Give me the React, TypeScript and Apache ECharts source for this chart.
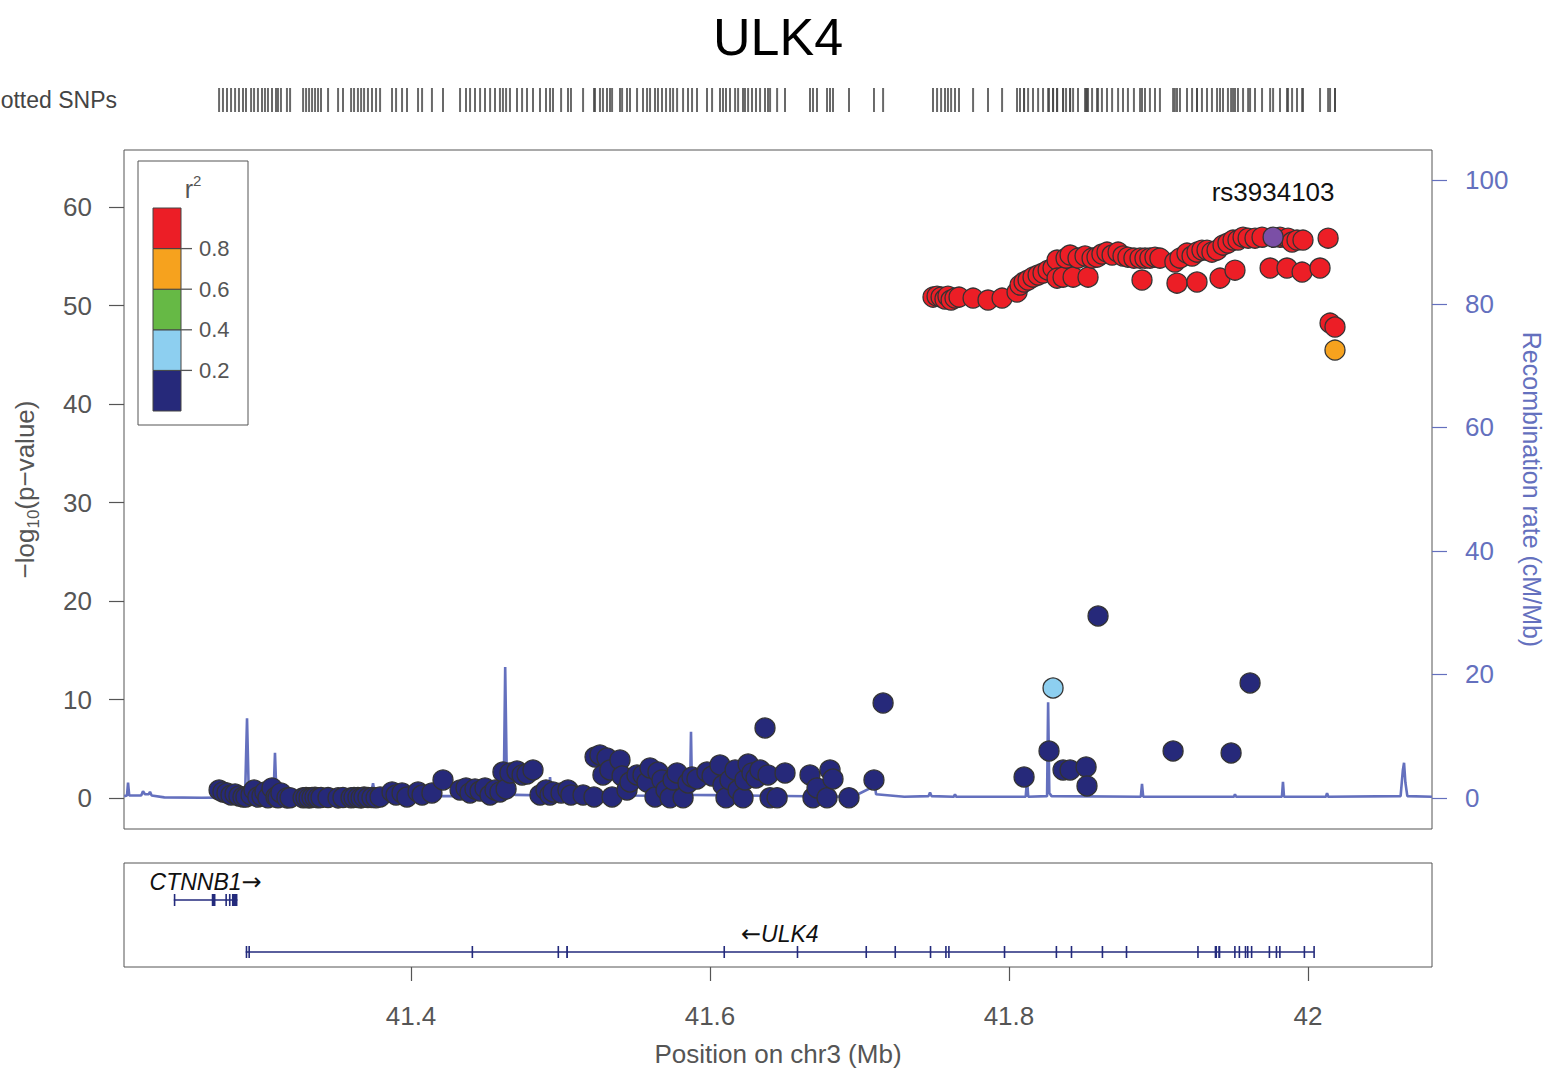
import React, { useEffect, useRef } from "react";
import * as echarts from "echarts";

// ---------------- DATA ----------------
const TITLE = "ULK4";
const INDEX_NAME = "rs3934103";
const X_MIN = 41.208;
const X_MAX = 42.083;
const X_TICKS = [41.4, 41.6, 41.8, 42.0];
const P_TICKS = [0, 10, 20, 30, 40, 50, 60];
const RECOMB_TICKS = [0, 20, 40, 60, 80, 100];
const LD_BREAK_LABELS = ["0.2", "0.4", "0.6", "0.8"];
// colours for r2 bins: <0.2, 0.2-0.4, 0.4-0.6, 0.6-0.8, >0.8
const LD_COLORS = ["#26297A", "#8DCFF0", "#66B945", "#F6A21E", "#EC1E26"];
const INDEX_COLOR = "#7B4FA6";

// r2 < 0.2
const navyPos = [41.2716,41.2742,41.2769,41.2796,41.2823,41.2849,41.2876,41.2896,41.2930,41.2950,41.2976,41.3003,41.3023,41.3043,41.3070,41.3097,41.3110,41.3130,41.3170,41.3191,
  41.3278,41.3298,41.3318,41.3338,41.3358,41.3378,41.3398,
  41.3445,41.3512,41.3545,41.3599,41.3619,41.3645,41.3666,41.3686,41.3712,41.3739,41.3766,41.3793,
  41.3873,41.3900,41.3940,41.3973,41.4047,41.4074,41.4140,41.4214,
  41.4328,41.4368,41.4395,41.4428,41.4462,41.4495,41.4529,41.4562,41.4595,
  41.4615,41.4636,41.4662,41.4709,41.4743,41.4776,41.4816,
  41.4863,41.4903,41.4930,41.4950,41.5004,41.5050,41.5070,41.5151,41.5224,
  41.5231,41.5264,41.5284,41.5311,41.5331,41.5345,41.5398,41.5412,41.5445,41.5465,
  41.5512,41.5552,41.5579,41.5599,41.5632,41.5652,41.5679,41.5706,41.5733,41.5753,41.5780,41.5820,
  41.5853,41.5880,41.5913,41.5980,41.6014,41.6067,41.6087,41.6107,41.6134,41.6168,41.6188,41.6221,41.6234,41.6255,41.6281,41.6308,41.6335,
  41.6368,41.6388,41.6402,41.6449,41.6502,
  41.6669,41.6689,41.6716,41.6783,41.6803,41.6823,41.6930,41.7097,41.7158,
  41.8101,41.8268,41.8362,41.8409,41.8516,41.8522,41.8596,41.9098,41.9486,41.9613];
const navyLogP = [0.81,0.61,0.51,0.30,0.41,0.20,0.10,0.10,0.30,0.81,0.10,0.20,0.61,0.02,1.02,0.10,0.02,0.51,0.01,0.03,
  0.02,0.05,0.01,0.04,0.08,0.02,0.05,
  0.04,0.01,0.05,0.02,0.06,0.04,0.01,0.09,0.04,0.05,0.02,0.10,
  0.61,0.30,0.51,0.10,0.61,0.30,0.51,1.83,
  0.81,1.02,0.51,0.91,0.71,1.02,0.30,0.81,0.61,
  2.64,0.91,2.54,2.74,2.34,2.44,2.84,
  0.30,0.81,0.30,0.61,0.51,0.81,0.30,0.30,0.10,
  4.16,4.37,2.34,4.06,2.84,0.10,3.86,2.23,0.81,1.62,
  2.34,2.34,1.62,3.05,0.10,2.64,1.83,0.81,0.02,1.83,2.54,0.02,
  1.52,2.13,1.93,2.64,2.23,3.35,1.32,0.02,1.83,2.84,0.81,0.02,1.83,3.45,2.54,2.03,2.84,
  7.11,2.34,0.02,0.02,2.54,
  2.34,0.02,1.02,0.02,2.84,1.93,0.02,1.83,9.64,
  2.13,4.77,2.84,2.84,3.15,1.22,18.48,4.77,4.57,11.68];

// 0.2 <= r2 < 0.4
const lightBluePos = [41.8295];
const lightBlueLogP = [11.17];

// 0.6 <= r2 < 0.8
const orangePos = [42.0181];
const orangeLogP = [45.48];

// r2 >= 0.8
const redPos = [41.7492,41.7519,41.7546,41.7572,41.7592,41.7613,41.7639,41.7666,41.7760,41.7860,41.7954,
  41.8054,41.8074,41.8101,41.8128,41.8161,41.8195,41.8228,41.8262,41.8295,
  41.8322,41.8322,41.8362,41.8382,41.8409,41.8429,41.8462,41.8509,41.8529,41.8556,
  41.8589,41.8622,41.8656,41.8690,41.8730,41.8763,41.8796,41.8836,41.8877,41.8890,
  41.8910,41.8943,41.8977,41.9010,41.9110,41.9124,41.9144,41.9191,41.9225,41.9258,
  41.9258,41.9291,41.9325,41.9358,41.9392,41.9412,41.9432,41.9465,41.9499,41.9512,
  41.9532,41.9566,41.9600,41.9646,41.9693,41.9747,41.9813,41.9860,41.9867,41.9894,
  41.9927,41.9961,41.9967,42.0081,42.0135,42.0148,42.0181];
const redLogP = [50.86,50.96,50.86,50.66,50.96,50.56,50.76,50.86,50.76,50.56,50.76,
  51.37,52.08,52.39,52.59,52.89,53.10,53.30,53.60,53.81,
  54.62,52.79,52.89,54.82,55.13,52.89,54.82,55.03,52.89,54.82,
  54.92,55.23,55.43,55.13,55.43,55.03,54.92,54.82,54.82,52.59,
  54.82,54.82,54.92,54.82,54.42,52.28,54.82,55.33,55.03,55.43,
  52.39,55.63,55.63,55.43,55.63,52.79,56.14,56.35,56.65,53.60,
  56.65,56.95,56.85,56.85,56.95,53.81,56.95,53.81,56.85,56.45,
  56.65,53.40,56.65,53.81,56.85,48.22,47.82];

// index SNP
const indexPos = [41.9767];
const indexLogP = [56.95];

// recombination rate (cM/Mb)
const recombPos = [41.2081,41.2100,41.2107,41.2115,41.2195,41.2207,41.2220,41.2245,41.2254,41.2265,41.2350,41.2600,41.2860,
  41.2890,41.2903,41.2915,41.3080,41.3090,41.3100,41.3730,41.3746,41.3760,
  41.4620,41.4630,41.4642,41.4700,41.4922,41.4930,41.4940,41.5475,41.5485,41.5495,
  41.5866,41.5873,41.5880,41.6950,41.6990,41.7090,41.7104,41.7111,41.7300,
  41.7462,41.7472,41.7482,41.7630,41.7639,41.7648,41.8112,41.8121,41.8129,
  41.8255,41.8262,41.8270,41.8285,41.8882,41.8890,41.8898,41.9505,41.9512,41.9520,
  41.9826,41.9833,41.9840,42.0120,42.0128,42.0136,42.0620,42.0635,42.0643,42.0652,42.0665,42.0830];
const recombRate = [0.3,0.4,2.5,0.4,0.4,1.1,0.6,0.6,1.0,0.4,0.1,0.05,0.1,
  0.4,12.9,0.5,0.3,7.3,0.4,0.3,2.4,0.3,
  0.3,21.2,1.0,0.5,0.4,3.4,0.4,0.4,1.2,0.4,
  0.3,10.7,0.5,0.2,0.6,1.8,1.9,0.6,0.2,
  0.3,0.9,0.3,0.2,0.6,0.2,0.2,3.0,0.2,
  0.3,15.5,0.8,0.3,0.2,2.3,0.2,0.2,0.6,0.2,
  0.2,2.6,0.2,0.2,0.8,0.2,0.3,4.5,5.7,2.5,0.3,0.2];

// genes
const geneNames = ["CTNNB1", "ULK4"];
const geneStart = [41.2413, 41.2894];
const geneEnd = [41.2839, 42.0040];
const geneStrand = ["+", "-"];
const ctnnb1Exons = [[41.2413,41.2417],[41.2667,41.2692],[41.2758,41.2762],[41.2782,41.2786],[41.2802,41.2839]];
const ulk4Exons = [[41.2894,41.2897],[41.2912,41.2916],[41.4405,41.4410],[41.4980,41.4985],[41.5038,41.5050],
  [41.6090,41.6095],[41.6580,41.6585],[41.7040,41.7045],[41.7234,41.7239],[41.7470,41.7475],[41.7573,41.7577],
  [41.7593,41.7597],[41.7965,41.7970],[41.8312,41.8316],[41.8413,41.8417],[41.8620,41.8624],[41.8781,41.8785],
  [41.9259,41.9263],[41.9376,41.9392],[41.9400,41.9414],[41.9506,41.9510],[41.9536,41.9540],[41.9577,41.9581],
  [41.9592,41.9596],[41.9618,41.9622],[41.9737,41.9741],[41.9784,41.9788],[41.9807,41.9811],[41.9971,41.9975],[42.0036,42.0040]];

// ---------------- STYLE ----------------
const FONT = "'Liberation Sans', Arial, Helvetica, sans-serif";
const ARROW_FONT = "'DejaVu Sans', sans-serif";
const AXIS_GREY = "#555555";
const RECOMB_BLUE = "#6470BE";
const GENE_NAVY = "#232A7C";
const GENE_ROW_Y = [0.644, 0.144];

const zip = (a: number[], b: number[]) => a.slice(0, Math.min(a.length, b.length)).map((v, i) => [v, b[i]]);

function buildOption() {
  const geneItems: any[] = [];
  for (let g = 0; g < geneNames.length; g++) {
    geneItems.push([geneStart[g], geneEnd[g], g, 0]);
  }
  const exonSets = [ctnnb1Exons, ulk4Exons];
  exonSets.forEach((set, g) => set.forEach(e => geneItems.push([e[0], e[1], g, 1])));

  const allPos = [...navyPos, ...lightBluePos, ...orangePos, ...redPos, ...indexPos];

  const scatterBase = {
    type: "scatter",
    xAxisIndex: 0,
    yAxisIndex: 0,
    symbolSize: 20,
    z: 4,
  };
  const dot = (color: string) => ({ color, borderColor: "#333333", borderWidth: 1.3, opacity: 1 });

  const legendGraphics: any[] = [];
  legendGraphics.push({ type: "rect", shape: { x: 138, y: 161, width: 110, height: 264 }, style: { fill: "#ffffff", stroke: AXIS_GREY, lineWidth: 1 }, z: 10 });
  const barTop = 208, blockH = 40.6;
  for (let i = 0; i < LD_COLORS.length; i++) {
    legendGraphics.push({
      type: "rect",
      shape: { x: 153, y: barTop + (LD_COLORS.length - 1 - i) * blockH, width: 28, height: blockH },
      style: { fill: LD_COLORS[i], stroke: "#444", lineWidth: 1 },
      z: 11,
    });
  }
  LD_BREAK_LABELS.forEach((lab, j) => {
    const y = barTop + (LD_COLORS.length - 1 - j) * blockH;
    legendGraphics.push({ type: "line", shape: { x1: 181, y1: y, x2: 192, y2: y }, style: { stroke: AXIS_GREY, lineWidth: 1.3 }, z: 11 });
    legendGraphics.push({
      type: "text", x: 199, y: y, z: 11,
      style: { text: lab, fontSize: 22, fontFamily: FONT, fill: AXIS_GREY, align: "left", verticalAlign: "middle", textAlign: "left", textVerticalAlign: "middle" },
    });
  });
  legendGraphics.push({
    type: "text", x: 193, y: 187, z: 11,
    style: {
      text: "{r|r}{p|2}", fontFamily: FONT, fill: AXIS_GREY, align: "center", verticalAlign: "middle", textAlign: "center", textVerticalAlign: "middle",
      rich: {
        r: { fontSize: 25, fontFamily: FONT, fill: AXIS_GREY, color: AXIS_GREY, lineHeight: 28, verticalAlign: "bottom" },
        p: { fontSize: 15, fontFamily: FONT, fill: AXIS_GREY, color: AXIS_GREY, lineHeight: 15, verticalAlign: "top" },
      },
    },
  });

  const gridCommon = { outerBoundsMode: "none", containLabel: false };

  return {
    animation: false,
    backgroundColor: "#ffffff",
    textStyle: { fontFamily: FONT },
    grid: [
      { ...gridCommon, left: 124, top: 150, width: 1308, height: 679, show: true, borderColor: AXIS_GREY, borderWidth: 1, backgroundColor: "transparent" },
      { ...gridCommon, left: 124, top: 863, width: 1308, height: 104, show: true, borderColor: AXIS_GREY, borderWidth: 1, backgroundColor: "transparent" },
      { ...gridCommon, left: 124, top: 88, width: 1308, height: 24, show: false },
    ],
    xAxis: [
      { gridIndex: 0, type: "value", min: X_MIN, max: X_MAX, show: false },
      {
        gridIndex: 1, type: "value", min: X_MIN, max: X_MAX,
        axisLine: { show: false }, splitLine: { show: false },
        axisTick: { show: true, customValues: X_TICKS, length: 14, lineStyle: { color: AXIS_GREY, width: 1.2 } },
        axisLabel: { customValues: X_TICKS, margin: 36, fontSize: 26, color: AXIS_GREY, fontFamily: FONT, formatter: (v: number) => String(+v.toFixed(1)) },
        name: "Position on chr3 (Mb)", nameLocation: "middle", nameGap: 74,
        nameTextStyle: { fontSize: 26, color: AXIS_GREY, fontFamily: FONT },
      },
      { gridIndex: 2, type: "value", min: X_MIN, max: X_MAX, show: false },
    ],
    yAxis: [
      {
        gridIndex: 0, type: "value", min: -3.15, max: 65.8, position: "left",
        axisLine: { show: false }, splitLine: { show: false },
        axisTick: { show: true, customValues: P_TICKS, length: 15, lineStyle: { color: AXIS_GREY, width: 1.2 } },
        axisLabel: { customValues: P_TICKS, margin: 32, fontSize: 26, color: AXIS_GREY, fontFamily: FONT },
        name: "{t|−log}{s|10}{t|(p−value)}", nameLocation: "middle", nameRotate: 90, nameGap: 82,
        nameTextStyle: {
          color: AXIS_GREY, fontFamily: FONT,
          rich: {
            t: { fontSize: 26, color: AXIS_GREY, fontFamily: FONT, lineHeight: 34, verticalAlign: "middle" },
            s: { fontSize: 17, color: AXIS_GREY, fontFamily: FONT, lineHeight: 17, verticalAlign: "bottom" },
          },
        },
      },
      {
        gridIndex: 0, type: "value", min: -5.02, max: 104.9, position: "right",
        axisLine: { show: false }, splitLine: { show: false },
        axisTick: { show: true, customValues: RECOMB_TICKS, length: 15, lineStyle: { color: RECOMB_BLUE, width: 1.2 } },
        axisLabel: { customValues: RECOMB_TICKS, margin: 33, fontSize: 26, color: RECOMB_BLUE, fontFamily: FONT },
        name: "Recombination rate (cM/Mb)", nameLocation: "middle", nameRotate: -90, nameGap: 75,
        nameTextStyle: { fontSize: 25, color: RECOMB_BLUE, fontFamily: FONT },
      },
      { gridIndex: 1, type: "value", min: 0, max: 1, show: false },
      { gridIndex: 2, type: "value", min: -1, max: 1, show: false },
    ],
    series: [
      {
        type: "line", xAxisIndex: 0, yAxisIndex: 1, data: zip(recombPos, recombRate),
        showSymbol: false, symbol: "none", lineStyle: { color: RECOMB_BLUE, width: 2.6 }, z: 2, silent: true,
      },
      { ...scatterBase, name: "r2<0.2", data: zip(navyPos, navyLogP), itemStyle: dot(LD_COLORS[0]) },
      { ...scatterBase, name: "r2 0.2-0.4", data: zip(lightBluePos, lightBlueLogP), itemStyle: dot(LD_COLORS[1]) },
      { ...scatterBase, name: "r2>0.8", data: zip(redPos, redLogP), itemStyle: dot(LD_COLORS[4]) },
      { ...scatterBase, name: "r2 0.6-0.8", data: zip(orangePos, orangeLogP), itemStyle: dot(LD_COLORS[3]) },
      {
        ...scatterBase, name: "index", z: 5,
        data: zip(indexPos, indexLogP).map(d => ({ value: d, name: INDEX_NAME })),
        itemStyle: dot(INDEX_COLOR),
        label: { show: true, position: "top", distance: 22, formatter: "{b}", fontSize: 26, color: "#111111", fontFamily: FONT },
      },
      {
        type: "scatter", xAxisIndex: 2, yAxisIndex: 3, data: allPos.map(p => [p, 0]),
        symbol: "rect", symbolSize: [2, 24], itemStyle: { color: "#444444" }, silent: true,
      },
      {
        type: "custom", xAxisIndex: 1, yAxisIndex: 2, data: geneItems, silent: true, clip: false,
        renderItem: (params: any, api: any) => {
          const g = api.value(2);
          const kind = api.value(3);
          const rowY = GENE_ROW_Y[g];
          const s = api.coord([api.value(0), rowY]);
          const e = api.coord([api.value(1), rowY]);
          if (kind === 0) {
            const label = geneStrand[g] === "+" ? "{n|" + geneNames[g] + "}{a|→}" : "{a|←}{n|" + geneNames[g] + "}";
            return {
              type: "group",
              children: [
                { type: "line", shape: { x1: s[0], y1: s[1], x2: e[0], y2: e[1] }, style: { stroke: GENE_NAVY, lineWidth: 1.6 } },
                {
                  type: "text", x: (s[0] + e[0]) / 2, y: s[1] - 18,
                  style: {
                    text: label, fill: "#111111", align: "center", verticalAlign: "middle", textAlign: "center", textVerticalAlign: "middle",
                    rich: {
                      n: { fontSize: 23, fontStyle: "italic", fontFamily: FONT, fill: "#111111", color: "#111111" },
                      a: { fontSize: 24, fontFamily: ARROW_FONT, fill: "#111111", color: "#111111" },
                    },
                  },
                },
              ],
            };
          }
          const w = Math.max(e[0] - s[0], 1.6);
          return { type: "rect", shape: { x: s[0], y: s[1] - 6, width: w, height: 12 }, style: { fill: GENE_NAVY } };
        },
      },
    ],
    graphic: [
      {
        type: "text", x: 778, y: 37,
        style: { text: TITLE, fontSize: 52, fontFamily: FONT, fill: "#000000", align: "center", verticalAlign: "middle", textAlign: "center", textVerticalAlign: "middle" },
      },
      {
        type: "text", x: 117, y: 100,
        style: { text: "Plotted SNPs", fontSize: 23, fontFamily: FONT, fill: "#444444", align: "right", verticalAlign: "middle", textAlign: "right", textVerticalAlign: "middle" },
      },
      ...legendGraphics,
    ],
  };
}

export default function App() {
  const ref = useRef<HTMLDivElement>(null);
  useEffect(() => {
    if (!ref.current) return;
    const chart = echarts.init(ref.current, undefined, { renderer: "svg" });
    chart.setOption(buildOption() as any);
    return () => chart.dispose();
  }, []);
  return <div ref={ref} style={{ position: "fixed", left: 0, top: 0, width: 1545, height: 1070, background: "#fff" }} />;
}
